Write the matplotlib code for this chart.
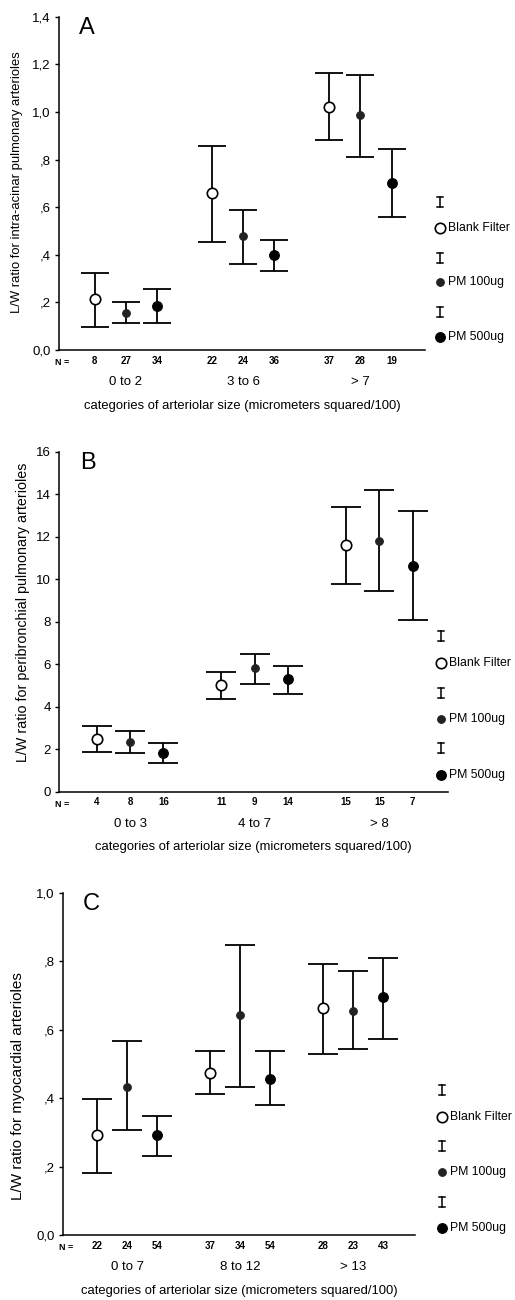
"""
plot.py -- three stacked panels (A, B, C): L/W ratio of arterioles by
size category for three exposure groups, mean with error bars.
Saved as out.png (515x1300).
"""

import matplotlib
matplotlib.use("Agg")
import matplotlib.pyplot as plt
from matplotlib.ticker import FixedLocator, FuncFormatter

plt.rcParams['font.family'] = ['Liberation Sans', 'DejaVu Sans']

W, H = 515, 1300

# ---- data -------------------------------------------------------------
treatments = ['Blank Filter', 'PM 100ug', 'PM 500ug']

# Panel A: intra-acinar pulmonary arterioles
a_cats = ['0 to 2', '3 to 6', '> 7']
a_blank = [0.214, 0.658, 1.022]
a_blank_lo = [0.095, 0.455, 0.882]
a_blank_hi = [0.325, 0.857, 1.165]
a_pm100 = [0.154, 0.479, 0.987]
a_pm100_lo = [0.115, 0.363, 0.812]
a_pm100_hi = [0.203, 0.588, 1.155]
a_pm500 = [0.185, 0.399, 0.700]
a_pm500_lo = [0.115, 0.333, 0.560]
a_pm500_hi = [0.256, 0.462, 0.844]
a_n_blank = [8, 22, 37]
a_n_pm100 = [27, 24, 28]
a_n_pm500 = [34, 36, 19]

# Panel B: peribronchial pulmonary arterioles
b_cats = ['0 to 3', '4 to 7', '> 8']
b_blank = [2.48, 5.03, 11.60]
b_blank_lo = [1.88, 4.38, 9.79]
b_blank_hi = [3.09, 5.64, 13.41]
b_pm100 = [2.36, 5.81, 11.80]
b_pm100_lo = [1.83, 5.05, 9.44]
b_pm100_hi = [2.86, 6.50, 14.20]
b_pm500 = [1.80, 5.30, 10.64]
b_pm500_lo = [1.35, 4.62, 8.08]
b_pm500_hi = [2.27, 5.92, 13.21]
b_n_blank = [4, 11, 15]
b_n_pm100 = [8, 9, 15]
b_n_pm500 = [16, 14, 7]

# Panel C: myocardial arterioles
c_cats = ['0 to 7', '8 to 12', '> 13']
c_blank = [0.291, 0.473, 0.663]
c_blank_lo = [0.182, 0.413, 0.529]
c_blank_hi = [0.397, 0.537, 0.792]
c_pm100 = [0.434, 0.642, 0.656]
c_pm100_lo = [0.307, 0.432, 0.543]
c_pm100_hi = [0.568, 0.849, 0.771]
c_pm500 = [0.291, 0.456, 0.695]
c_pm500_lo = [0.232, 0.380, 0.573]
c_pm500_hi = [0.348, 0.537, 0.810]
c_n_blank = [22, 37, 28]
c_n_pm100 = [24, 34, 23]
c_n_pm500 = [54, 54, 43]

# ---- styling ----------------------------------------------------------
OFFSET = 0.267           # x shift of each treatment inside a group
MARKERS = [
    dict(marker='o', ms=7.5, mfc='white', mec='black', mew=1.2),
    dict(marker='o', ms=5.5, mfc='#222222', mec='#222222', mew=0.8),
    dict(marker='o', ms=7.0, mfc='black', mec='black', mew=0.8),
]


def comma_fmt(v, pos):
    s = f"{v:.1f}".replace('.', ',')
    if s.startswith('0,') and v != 0:
        s = s[1:]
    return s


def fx(x):
    return x / W


def fy(y):
    return 1 - y / H


def draw_panel(fig, box, letter, cats, means, los, his, ns, ylim, yticks,
               yfmt, ylabel, ylabel_pos, legend_rows, legend_x, capsize,
               ylabel_size):
    left, top, right, bottom = box
    ax = fig.add_axes([fx(left), fy(bottom), (right - left) / W,
                       (bottom - top) / H])

    xs_all, n_all = [], []
    for t in range(3):
        xs = [g + (t - 1) * OFFSET for g in range(len(cats))]
        yerr = [[m - lo for m, lo in zip(means[t], los[t])],
                [hi - m for m, hi in zip(means[t], his[t])]]
        ax.errorbar(xs, means[t], yerr=yerr, fmt='none', ecolor='black',
                    elinewidth=1.3, capsize=capsize, capthick=1.3, zorder=2)
        ax.plot(xs, means[t], ls='none', zorder=3, **MARKERS[t])
        xs_all += xs
        n_all += ns[t]

    ax.set_xlim(-0.57, 2.55)
    ax.set_ylim(*ylim)
    ax.spines['top'].set_visible(False)
    ax.spines['right'].set_visible(False)
    for s in ('left', 'bottom'):
        ax.spines[s].set_linewidth(1.1)

    # N values as tick labels under each point, small ticks at group centres
    ax.set_xticks(xs_all)
    ax.set_xticklabels([str(n) for n in n_all], fontsize=7, fontweight='bold')
    ax.tick_params(axis='x', which='major', length=0, pad=4)
    ax.xaxis.set_minor_locator(FixedLocator(range(len(cats))))
    ax.tick_params(axis='x', which='minor', length=3, width=1)

    ax.yaxis.set_major_locator(FixedLocator(yticks))
    ax.yaxis.set_major_formatter(FuncFormatter(yfmt))
    ax.tick_params(axis='y', length=3, width=1, pad=3, labelsize=9.5)

    ax.annotate('N =', xy=(0, 0), xycoords='axes fraction', xytext=(2, -9),
                textcoords='offset points', ha='center', va='center',
                fontsize=6.5, fontweight='bold')
    for g, c in enumerate(cats):
        ax.annotate(c, xy=(g, 0), xycoords=('data', 'axes fraction'),
                    xytext=(0, -23), textcoords='offset points',
                    ha='center', va='center', fontsize=9.5)
    ax.annotate('categories of arteriolar size (micrometers squared/100)',
                xy=(0.5, 0), xycoords='axes fraction', xytext=(0, -40),
                textcoords='offset points', ha='center', va='center',
                fontsize=9.4)

    fig.text(fx(ylabel_pos[0]), fy(ylabel_pos[1]), ylabel, rotation=90,
             ha='center', va='center', fontsize=ylabel_size)
    ax.text(0.055, 1.0, letter, transform=ax.transAxes, ha='left',
            va='top', fontsize=17)

    # legend: an I-bar row above each marker + label row
    for t, (ybar, yrow) in enumerate(legend_rows):
        bx = fx(legend_x)
        fig.add_artist(plt.Line2D([bx, bx], [fy(ybar - 5), fy(ybar + 5)],
                                  color='black', lw=1.1))
        for yy in (ybar - 5, ybar + 5):
            fig.add_artist(plt.Line2D([fx(legend_x - 3), fx(legend_x + 3)],
                                      [fy(yy), fy(yy)], color='black',
                                      lw=1.1))
        fig.add_artist(plt.Line2D([bx], [fy(yrow)], ls='none', **MARKERS[t]))
        fig.text(fx(legend_x + 8), fy(yrow), treatments[t], ha='left',
                 va='center', fontsize=8.8)
    return ax


fig = plt.figure(figsize=(W / 100, H / 100), dpi=100)
fig.patch.set_facecolor('white')

draw_panel(fig, (59, 16.7, 425, 350), 'A', a_cats,
           [a_blank, a_pm100, a_pm500],
           [a_blank_lo, a_pm100_lo, a_pm500_lo],
           [a_blank_hi, a_pm100_hi, a_pm500_hi],
           [a_n_blank, a_n_pm100, a_n_pm500],
           (0, 1.4), [0, 0.2, 0.4, 0.6, 0.8, 1.0, 1.2, 1.4], comma_fmt,
           'L/W ratio for intra-acinar pulmonary arterioles', (17, 182),
           [(202, 228), (258, 282), (312, 337)], 440, 10, 9.4)

draw_panel(fig, (59, 451.7, 448, 791.7), 'B', b_cats,
           [b_blank, b_pm100, b_pm500],
           [b_blank_lo, b_pm100_lo, b_pm500_lo],
           [b_blank_hi, b_pm100_hi, b_pm500_hi],
           [b_n_blank, b_n_pm100, b_n_pm500],
           (0, 16), list(range(0, 17, 2)), lambda v, p: f"{v:.0f}",
           'L/W ratio for peribronchial pulmonary arterioles', (23, 612),
           [(636, 663), (693, 719), (748, 775)], 441, 11, 10.3)

draw_panel(fig, (63, 893, 415, 1235), 'C', c_cats,
           [c_blank, c_pm100, c_pm500],
           [c_blank_lo, c_pm100_lo, c_pm500_lo],
           [c_blank_hi, c_pm100_hi, c_pm500_hi],
           [c_n_blank, c_n_pm100, c_n_pm500],
           (0, 1.0), [0, 0.2, 0.4, 0.6, 0.8, 1.0], comma_fmt,
           'L/W ratio for myocardial arterioles', (18, 1086),
           [(1090, 1117), (1146, 1172), (1202, 1228)], 442, 10.8, 11)

fig.savefig('out.png', dpi=100)
